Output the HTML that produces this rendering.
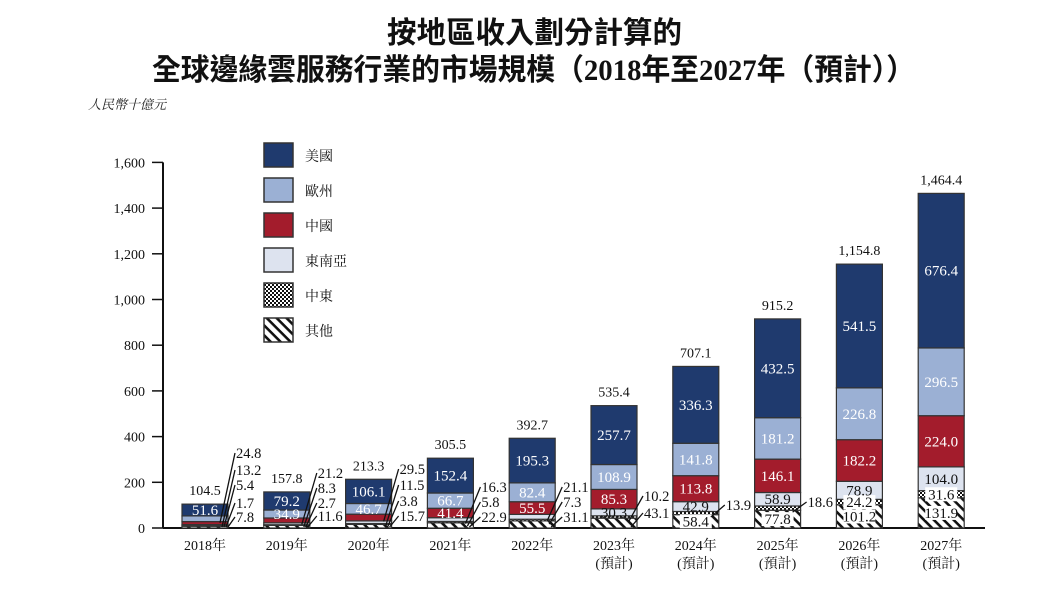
<!DOCTYPE html>
<html><head><meta charset="utf-8">
<style>
body{margin:0;background:#fff;}
svg{display:block;font-family:"Liberation Serif","Noto Serif CJK SC",serif;}
</style></head>
<body>
<svg width="1039" height="592" viewBox="0 0 1039 592">
<defs>
<pattern id="pChk" width="4" height="4" patternUnits="userSpaceOnUse">
<rect width="4" height="4" fill="#fff"/><rect width="2" height="2" fill="#111"/><rect x="2" y="2" width="2" height="2" fill="#111"/>
</pattern>
<pattern id="pHatch" width="7" height="7" patternUnits="userSpaceOnUse" patternTransform="rotate(45)">
<rect width="7" height="7" fill="#fff"/><rect width="7" height="2.6" fill="#111"/>
</pattern>
</defs>
<text x="387" y="43" textLength="295" lengthAdjust="spacingAndGlyphs" font-size="30" font-weight="bold" fill="#111" style="font-family:'Liberation Serif','Noto Sans CJK TC',sans-serif">按地區收入劃分計算的</text>
<text x="152" y="80" textLength="763" lengthAdjust="spacingAndGlyphs" font-size="30" font-weight="bold" fill="#111" style="font-family:'Liberation Serif','Noto Sans CJK TC',sans-serif">全球邊緣雲服務行業的市場規模（2018年至2027年（預計））</text>
<text x="88" y="109" font-size="13" font-style="italic" fill="#222">人民幣十億元</text>
<g id="axes"></g>
<g id="bars"></g>
<g id="legend"></g>
</svg>
<script>
const categories=["2018年","2019年","2020年","2021年","2022年","2023年","2024年","2025年","2026年","2027年"];
const forecast=[false,false,false,false,false,true,true,true,true,true];
const seriesNames=["美國","歐州","中國","東南亞","中東","其他"];
const usVals=[51.6,79.2,106.1,152.4,195.3,257.7,336.3,432.5,541.5,676.4];
const euVals=[24.8,34.9,46.7,66.7,82.4,108.9,141.8,181.2,226.8,296.5];
const cnVals=[13.2,21.2,29.5,41.4,55.5,85.3,113.8,146.1,182.2,224.0];
const seaVals=[5.4,8.3,11.5,16.3,21.1,30.3,42.9,58.9,78.9,104.0];
const meVals=[1.7,2.7,3.8,5.8,7.3,10.2,13.9,18.6,24.2,31.6];
const otherVals=[7.8,11.6,15.7,22.9,31.1,43.1,58.4,77.8,101.2,131.9];
const totals=[104.5,157.8,213.3,305.5,392.7,535.4,707.1,915.2,1154.8,1464.4];
const yTicks=[0,200,400,600,800,1000,1200,1400,1600];
const yTickLabels=["0","200","400","600","800","1,000","1,200","1,400","1,600"];

const insideMask=[
 [0,0,0,0,0,1],[0,0,0,0,1,1],[0,0,0,0,1,1],[0,0,0,1,1,1],[0,0,0,1,1,1],
 [0,0,1,1,1,1],[1,0,1,1,1,1],[1,0,1,1,1,1],[1,1,1,1,1,1],[1,1,1,1,1,1]];
const outsideY=[[71,54,39,21,7],[51,36,21,8],[55,39,23,8],[37,22,7],[37,22,7],[28,11],[19],[22]];

const NS="http://www.w3.org/2000/svg";
const y0=528, k=0.2285, x0=205, step=81.8, bw=46;
const yS=v=>y0-v*k;
const xS=i=>x0+i*step;
function mk(tag,attrs,parent){const e=document.createElementNS(NS,tag);for(const a in attrs)e.setAttribute(a,attrs[a]);parent.appendChild(e);return e;}
const axes=document.getElementById('axes'),bars=document.getElementById('bars'),leg=document.getElementById('legend');
const labelLayer=document.createElementNS(NS,'g');

let ax=mk('line',{x1:163,y1:yS(1600),x2:163,y2:y0,stroke:'#111','stroke-width':2},axes);


let xa=mk('line',{x1:163,y1:y0,x2:985,y2:y0,stroke:'#111','stroke-width':2},axes);


yTicks.forEach((t,i)=>{
  const tk=mk('line',{x1:152,x2:163,y1:yS(t),y2:yS(t),stroke:'#111','stroke-width':1.5},axes);
  
  
  const tl=mk('text',{x:145,y:yS(t)+5,'text-anchor':'end','font-size':14,fill:'#111'},axes);
  tl.textContent=yTickLabels[i];
  
  
});

const series=[otherVals,meVals,seaVals,cnVals,euVals,usVals];
const fills=['url(#pHatch)','url(#pChk)','#dde3ef','#a31c2c','#9bb0d4','#1f3a6e'];
const txtCol=['#111','#111','#111','#fff','#fff','#fff'];
const sNames=['other','middle-east','southeast-asia','china','europe','usa'];
categories.forEach((c,i)=>{
  const g=mk('g',{},bars);
  
  
  let cum=0; const outside=[]; const labels=[];
  series.forEach((s,j)=>{
    const v=s[i], yt=yS(cum+v), yb=yS(cum);
    const r=mk('rect',{x:xS(i)-bw/2,y:yt,width:bw,height:Math.max(0,yb-yt),fill:fills[j],stroke:'#333','stroke-width':1.2},g);
    
    
    if(insideMask[i][j]) labels.push({j,v,ym:(yt+yb)/2});
    else outside.push({j,v,ym:(yt+yb)/2});
    cum+=v;
  });
  labels.forEach(o=>{
    if(o.j<2){
      const bg=mk('rect',{x:xS(i)-16,y:o.ym-7,width:32,height:14,fill:'#fff'},g);
      
      
    }
    const t=mk('text',{x:xS(i),y:o.ym+5,'text-anchor':'middle','font-size':15,fill:txtCol[o.j]},g);
    t.textContent=o.v.toFixed(1);
    
    
  });
  const outs=outside.slice().reverse();
  const oy=outsideY[i]||[];
  outs.forEach((o,idx)=>{
    const ly=y0-(oy[idx]!==undefined?oy[idx]:7+idx*15);
    const lx=xS(i)+bw/2+(i<5?6:5);
    const ln=mk('line',{x1:xS(i)+bw/2-8+idx*2,y1:Math.min(o.ym+4,y0-1),x2:lx+1,y2:ly-4,stroke:'#111','stroke-width':1.3},labelLayer);
    
    
    const t=mk('text',{x:lx+2,y:ly+1,'font-size':14.5,fill:'#111'},labelLayer);
    t.textContent=o.v.toFixed(1);
    
    
  });
  const tt=mk('text',{x:xS(i),y:yS(totals[i])-9,'text-anchor':'middle','font-size':14,fill:'#111'},g);
  tt.textContent=totals[i].toLocaleString('en-US',{minimumFractionDigits:1,maximumFractionDigits:1});
  
  
  const xl=mk('text',{x:xS(i),y:550,'text-anchor':'middle','font-size':14,fill:'#111'},g);
  xl.textContent=c;
  
  
  if(forecast[i]){
    const fl=mk('text',{x:xS(i),y:568,'text-anchor':'middle','font-size':14,fill:'#111'},g);
    fl.textContent='(預計)';
    
    
  }
});


bars.appendChild(labelLayer);

const legFills=['#1f3a6e','#9bb0d4','#a31c2c','#dde3ef','url(#pChk)','url(#pHatch)'];
seriesNames.forEach((s,i)=>{
  const g=mk('g',{},leg);
  
  
  const r=mk('rect',{x:264,y:143+i*35,width:29,height:24,fill:legFills[i],stroke:'#333','stroke-width':1.5},g);
  
  
  const t=mk('text',{x:305,y:161+i*35,'font-size':14,fill:'#111'},g);
  t.textContent=s;
  
  
});
</script>
</body></html>
